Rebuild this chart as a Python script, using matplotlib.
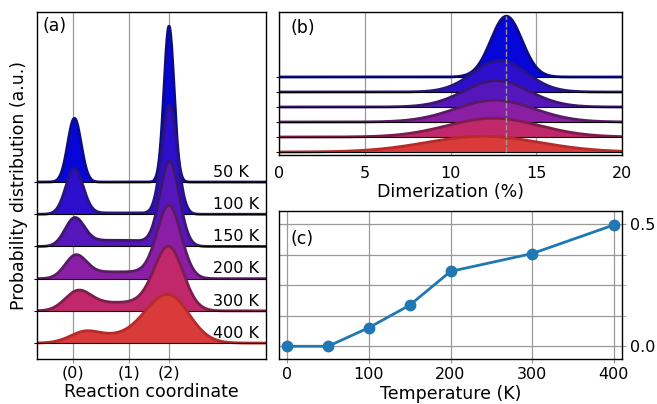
import numpy as np
import matplotlib.pyplot as plt

plt.rcParams['font.family'] = ['DejaVu Sans']

# temperatures shown as ridgelines (top to bottom)
temp_labels = ['50 K', '100 K', '150 K', '200 K', '300 K', '400 K']
fill_colors = ['#0606d9', '#2c0ecc', '#5516bb', '#8a1fa6', '#c0286a', '#d93b3b']
edge_colors = ['#0c0c86', '#2a1480', '#3e1670', '#5a1a66', '#7e1c4e', '#b82a2a']

# panel (a): peak at (0), plateau between, peak at (2)
a_tick_pos = [0, 1.167, 2]
a_tick_labels = ['(0)', '(1)', '(2)']
a0_height = [1.98, 1.41, 0.85, 0.70, 0.55, 0.23]
a0_center = [0.03, 0.03, 0.03, 0.05, 0.07, 0.14]
a0_width = [0.14, 0.18, 0.20, 0.22, 0.26, 0.30]
mid_height = [0.0, 0.04, 0.19, 0.21, 0.26, 0.25]
mid_center = [0.9, 0.9, 0.9, 0.95, 0.9, 0.9]
mid_width = [0.8, 0.8, 0.8, 0.8, 0.8, 0.8]
a2_height = [4.84, 3.38, 2.64, 2.27, 2.0, 1.5]
a2_center = [2.0, 2.01, 2.01, 2.0, 1.99, 1.98]
a2_width = [0.105, 0.16, 0.20, 0.25, 0.30, 0.43]

# panel (b): dimerization distributions
b_center = [13.26, 12.87, 12.68, 12.58, 12.5, 11.9]
b_width = [0.91, 1.57, 1.9, 2.3, 2.7, 3.3]
b_height = [4.05, 2.09, 1.75, 1.45, 1.25, 1.05]
b_peak = 13.25

# panel (c)
c_temp = [0, 50, 100, 150, 200, 300, 400]
c_dimer = [0.0, 0.0, 0.076, 0.168, 0.306, 0.379, 0.496]


def gauss(x, h, c, s):
    return h * np.exp(-0.5 * ((x - c) / s) ** 2)


def flat(x, h, c, w):
    return h * np.exp(-((x - c) / w) ** 4)


grid_col = '#9a9a9a'
fs_lab = 12.5
fs_tick = 11.5

fig = plt.figure(figsize=(6.57, 4.04), dpi=100)
ax_a = fig.add_axes([0.0563, 0.1126, 0.3486, 0.8577])
ax_b = fig.add_axes([0.4247, 0.6163, 0.5220, 0.3540])
ax_c = fig.add_axes([0.4247, 0.1126, 0.5220, 0.3651])

# ---- panel (a)
xa = np.linspace(-0.75, 4.02, 800)
n = len(temp_labels)
for i in range(n):
    off = n - 1 - i
    y = (gauss(xa, a0_height[i], a0_center[i], a0_width[i])
         + flat(xa, mid_height[i], mid_center[i], mid_width[i])
         + gauss(xa, a2_height[i], a2_center[i], a2_width[i]))
    z = 3 + i * 3
    ax_a.fill_between(xa, off, off + y, color=fill_colors[i], lw=0, zorder=z)
    ax_a.plot(xa, off + y, color=edge_colors[i], lw=2, zorder=z + 1)
    ax_a.axhline(off, color='k', lw=0.8, zorder=z + 2)
    ax_a.text(2.92, off + 0.16, temp_labels[i], fontsize=fs_tick,
              ha='left', va='baseline', zorder=30)

ax_a.set_xlim(-0.75, 4.02)
ax_a.set_ylim(-0.48, 10.28)
ax_a.set_xticks(a_tick_pos)
ax_a.set_xticklabels(a_tick_labels, fontsize=fs_tick)
ax_a.set_yticks(range(n))
ax_a.tick_params(axis='y', length=2.5, labelleft=False)
ax_a.tick_params(axis='x', length=3, color=grid_col, pad=2)
ax_a.grid(axis='x', color=grid_col, lw=0.9)
ax_a.set_axisbelow(True)
ax_a.set_xlabel('Reaction coordinate', fontsize=fs_lab, labelpad=2)
ax_a.set_ylabel('Probability distribution (a.u.)', fontsize=fs_lab, labelpad=4)
ax_a.text(0.025, 0.985, '(a)', transform=ax_a.transAxes, fontsize=fs_lab,
          ha='left', va='top', zorder=30)

# ---- panel (b)
xb = np.linspace(0, 20, 600)
for i in range(n):
    off = n - 1 - i
    y = gauss(xb, b_height[i], b_center[i], b_width[i])
    z = 3 + i * 3
    ax_b.fill_between(xb, off, off + y, color=fill_colors[i], lw=0, zorder=z)
    ax_b.plot(xb, off + y, color=edge_colors[i], lw=2, zorder=z + 1)
    ax_b.axhline(off, color='k', lw=0.8, zorder=z + 2)

# dashed marker under the top peak only
ax_b.vlines(b_peak, 0, n - 1 + b_height[0], color=grid_col, lw=1, ls='--', zorder=30)
ax_b.set_xlim(0, 20)
ax_b.set_ylim(-0.2, 9.33)
ax_b.set_xticks([0, 5, 10, 15, 20])
ax_b.tick_params(axis='x', labelsize=fs_tick, length=0, pad=8)
ax_b.set_yticks(range(n))
ax_b.tick_params(axis='y', length=2.5, labelleft=False)
ax_b.grid(axis='x', color=grid_col, lw=0.9)
ax_b.set_axisbelow(True)
ax_b.set_xlabel('Dimerization (%)', fontsize=fs_lab, labelpad=1)
ax_b.text(0.032, 0.95, '(b)', transform=ax_b.transAxes, fontsize=fs_lab,
          ha='left', va='top', zorder=30)

# ---- panel (c)
ax_c.plot(c_temp, c_dimer, color='#1f77b4', lw=2, marker='o', ms=7.5, zorder=3)
ax_c.set_xlim(-10, 410)
ax_c.set_ylim(-0.05, 0.553)
ax_c.set_xticks([0, 100, 200, 300, 400])
ax_c.yaxis.tick_right()
ax_c.set_yticks([0.0, 0.5])
ax_c.set_yticks([0.125, 0.25, 0.375], minor=True)
ax_c.set_yticklabels(['0.0', '0.5'])
ax_c.tick_params(axis='both', which='both', labelsize=fs_tick, length=3,
                 color=grid_col)
ax_c.tick_params(axis='x', pad=3)
ax_c.tick_params(axis='y', pad=3)
ax_c.grid(which='both', color=grid_col, lw=0.9)
ax_c.set_axisbelow(True)
ax_c.set_xlabel('Temperature (K)', fontsize=fs_lab, labelpad=2)
ax_c.text(0.032, 0.87, '(c)', transform=ax_c.transAxes, fontsize=fs_lab,
          ha='left', va='top', zorder=30)

for ax in (ax_a, ax_b, ax_c):
    for sp in ax.spines.values():
        sp.set_linewidth(1.0)
        sp.set_zorder(40)

fig.savefig('out.png', dpi=100)
